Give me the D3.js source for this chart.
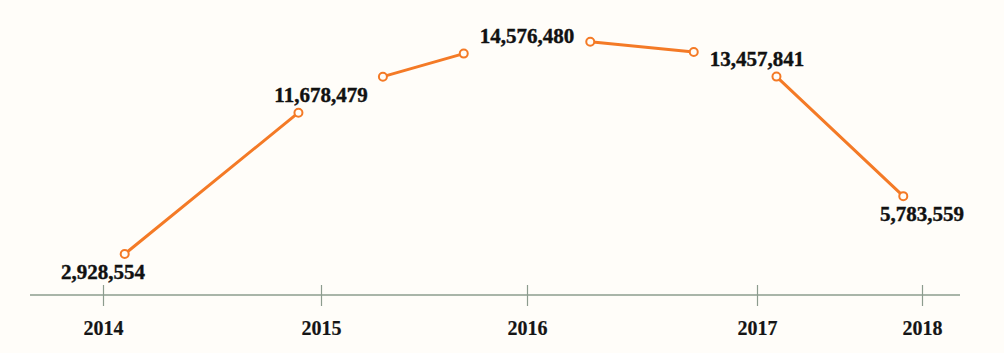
<!DOCTYPE html>
<html>
<head>
<meta charset="utf-8">
<script src="https://cdn.jsdelivr.net/npm/d3@7"></script>
<style>
  html, body { margin: 0; padding: 0; background: #fffdf9; }
  svg { display: block; }
</style>
</head>
<body>
<div id="chart"></div>
<script>
// datos
const years = [2014, 2015, 2016, 2017, 2018]
const values = [2928554, 11678479, 14576480, 13457841, 5783559]

const width = 1004, height = 353
const orange = "#f47a26"
const axisColor = "#8c9c8e"

const svg = d3.select("#chart")
    .append("svg")
    .attr("width", width)
    .attr("height", height)
    .attr("viewBox", [0, 0, width, height])

// escalas (el eje del original no está espaciado uniformemente)
const x = d3.scaleLinear()
    .domain(years)
    .range([103, 321, 527, 757, 922])

const y = d3.scaleLinear()
    .domain([0, 15000000])
    .range([331, 27])

const axisY = 295

// eje
const gx = svg.append("g")
    .attr("transform", `translate(0,${axisY})`)
    .call(d3.axisBottom(x).tickValues(years).tickFormat(d3.format("d")).tickSize(11).tickPadding(0))

gx.select(".domain").remove()
gx.insert("line", ":first-child")
    .attr("x1", 30).attr("x2", 960)
    .attr("stroke", axisColor)
    .attr("stroke-width", 1.5)
gx.selectAll(".tick line")
    .attr("y1", -10)
    .attr("stroke", axisColor)
    .attr("stroke-width", 1.2)
gx.selectAll(".tick text")
    .attr("y", 40)
    .attr("dy", 0)
    .attr("fill", "#151515")
    .attr("stroke", "#151515")
    .attr("stroke-width", 0.2)
    .style("font-family", "'Liberation Serif', serif")
    .style("font-weight", "bold")
    .style("font-size", "20px")

const data = years.map((yr, i) => ({ year: yr, value: values[i] }))
const fmt = d3.format(",")

// etiquetas
const lineG = svg.append("g")
const labels = svg.append("g")
    .selectAll("text")
    .data(data)
    .join("text")
    .attr("x", d => x(d.year))
    .attr("y", d => y(d.value))
    .attr("dy", "0.35em")
    .attr("text-anchor", "middle")
    .attr("fill", "#111")
    .attr("stroke", "#111")
    .attr("stroke-width", 0.4)
    .style("font-family", "'Liberation Serif', serif")
    .style("font-weight", "bold")
    .style("font-size", "21px")
    .text(d => fmt(d.value))

const padX = 16, padY = 6
labels.each(function(d) {
    const b = this.getBBox()
    d.box = { x0: b.x - padX, x1: b.x + b.width + padX, y0: b.y - padY, y1: b.y + b.height + padY }
    d.cx = x(d.year)
    d.cy = y(d.value)
})

// salida de un rayo desde el centro de la etiqueta
function exitPoint(p, q) {
    const dx = q.cx - p.cx, dy = q.cy - p.cy
    let t = Infinity
    if (dx > 0) t = Math.min(t, (p.box.x1 - p.cx) / dx)
    if (dx < 0) t = Math.min(t, (p.box.x0 - p.cx) / dx)
    if (dy > 0) t = Math.min(t, (p.box.y1 - p.cy) / dy)
    if (dy < 0) t = Math.min(t, (p.box.y0 - p.cy) / dy)
    return [p.cx + t * dx, p.cy + t * dy]
}

const segs = d3.pairs(data).map(([a, b]) => [exitPoint(a, b), exitPoint(b, a)])

lineG.selectAll("line")
    .data(segs)
    .join("line")
    .attr("x1", d => d[0][0]).attr("y1", d => d[0][1])
    .attr("x2", d => d[1][0]).attr("y2", d => d[1][1])
    .attr("stroke", orange)
    .attr("stroke-width", 3)
    .attr("stroke-linecap", "round")

lineG.selectAll("circle")
    .data(segs.flat())
    .join("circle")
    .attr("cx", d => d[0])
    .attr("cy", d => d[1])
    .attr("r", 4)
    .attr("fill", "#fffdf9")
    .attr("stroke", orange)
    .attr("stroke-width", 2)
</script>
</body>
</html>
